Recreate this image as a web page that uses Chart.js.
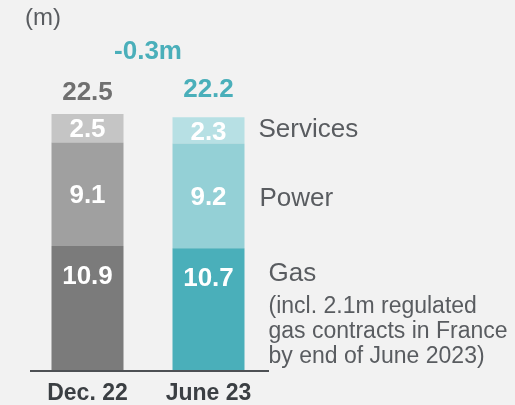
<!DOCTYPE html>
<html>
<head>
<meta charset="utf-8">
<script src="https://cdn.jsdelivr.net/npm/chart.js@4/dist/chart.umd.min.js"></script>
<style>
  html, body { margin: 0; padding: 0; background: #f2f2f2; }
  #wrap { width: 515px; height: 405px; position: relative; }
</style>
</head>
<body>
<div id="wrap"><canvas id="chart" width="515" height="405"></canvas></div>
<script>
const categories = ["Dec. 22", "June 23"];
const gasValues = [10.9, 10.7];
const powerValues = [9.1, 9.2];
const servicesValues = [2.5, 2.3];
const totals = [22.5, 22.2];
const changeLabel = "-0.3m";
const seriesNames = ["Gas", "Power", "Services"];
const gasNote = ["(incl. 2.1m regulated", "gas contracts in France", "by end of June 2023)"];

const FONT = "'Liberation Sans', Arial, sans-serif";

// draws value labels, totals, series names and the axis line
const annotate = {
    id: "annotate",
    afterDatasetsDraw(chart) {
        const ctx = chart.ctx;
        const x = chart.scales.x;
        const y = chart.scales.y;
        ctx.save();

        // baseline
        ctx.strokeStyle = "#4d5054";
        ctx.lineWidth = 2;
        ctx.beginPath();
        ctx.moveTo(chart.chartArea.left + 3, y.getPixelForValue(0) + 1);
        ctx.lineTo(chart.chartArea.right, y.getPixelForValue(0) + 1);
        ctx.stroke();

        // values inside segments (gas label sits near the top of its segment)
        ctx.textAlign = "center";
        ctx.textBaseline = "middle";
        ctx.fillStyle = "#ffffff";
        ctx.font = "bold 26px " + FONT;
        chart.data.datasets.forEach((ds, di) => {
            chart.getDatasetMeta(di).data.forEach((bar, i) => {
                const top = bar.y, bottom = bar.base;
                const ly = di === 0 ? top + 30 : (top + bottom) / 2 + 1;
                ctx.fillText(ds.data[i].toFixed(1), bar.x, ly + 1);
            });
        });

        // totals
        const totalColors = ["#707070", "#4aafba"];
        const totalOffsets = [21, 28];
        totals.forEach((t, i) => {
            ctx.fillStyle = totalColors[i];
            ctx.fillText(t.toFixed(1), x.getPixelForValue(i), y.getPixelForValue(t) - totalOffsets[i]);
        });

        // change between periods
        ctx.fillStyle = "#4aafba";
        ctx.fillText(changeLabel, (x.getPixelForValue(0) + x.getPixelForValue(1)) / 2, 52);

        // category labels
        ctx.fillStyle = "#3b3f43";
        ctx.font = "bold 23px " + FONT;
        categories.forEach((c, i) => {
            ctx.fillText(c, x.getPixelForValue(i), 394);
        });

        // unit
        ctx.textAlign = "left";
        ctx.fillStyle = "#595c60";
        ctx.font = "24px " + FONT;
        ctx.fillText("(m)", 25, 18);

        // series names to the right of the last bar
        const last = categories.length - 1;
        const metas = [0, 1, 2].map(d => chart.getDatasetMeta(d).data[last]);
        const lx = metas[0].x + metas[0].width / 2;
        ctx.font = "26px " + FONT;
        ctx.fillText(seriesNames[2], lx + 14, (metas[2].y + metas[2].base) / 2 - 1);
        ctx.fillText(seriesNames[1], lx + 15, (metas[1].y + metas[1].base) / 2 + 3);
        ctx.fillText(seriesNames[0], lx + 24, metas[0].y + 26);
        ctx.font = "23px " + FONT;
        gasNote.forEach((line, i) => {
            ctx.fillText(line, lx + 24, metas[0].y + 58 + i * 25);
        });

        ctx.restore();
    }
};

new Chart(document.getElementById("chart"), {
    type: "bar",
    data: {
        labels: categories,
        datasets: [
            { label: seriesNames[0], data: gasValues, backgroundColor: ["#7b7b7b", "#4aafba"] },
            { label: seriesNames[1], data: powerValues, backgroundColor: ["#a0a0a0", "#94d0d6"] },
            { label: seriesNames[2], data: servicesValues, backgroundColor: ["#c5c5c5", "#b7e0e4"] }
        ]
    },
    options: {
        responsive: false,
        animation: false,
        layout: { padding: { left: 27, right: 246, top: 85.5, bottom: 35 } },
        datasets: { bar: { barPercentage: 0.595, categoryPercentage: 1 } },
        scales: {
            x: { stacked: true, display: false },
            y: { stacked: true, display: false, min: 0, max: 25 }
        },
        plugins: {
            legend: { display: false },
            tooltip: { enabled: false }
        }
    },
    plugins: [annotate]
});
</script>
</body>
</html>
